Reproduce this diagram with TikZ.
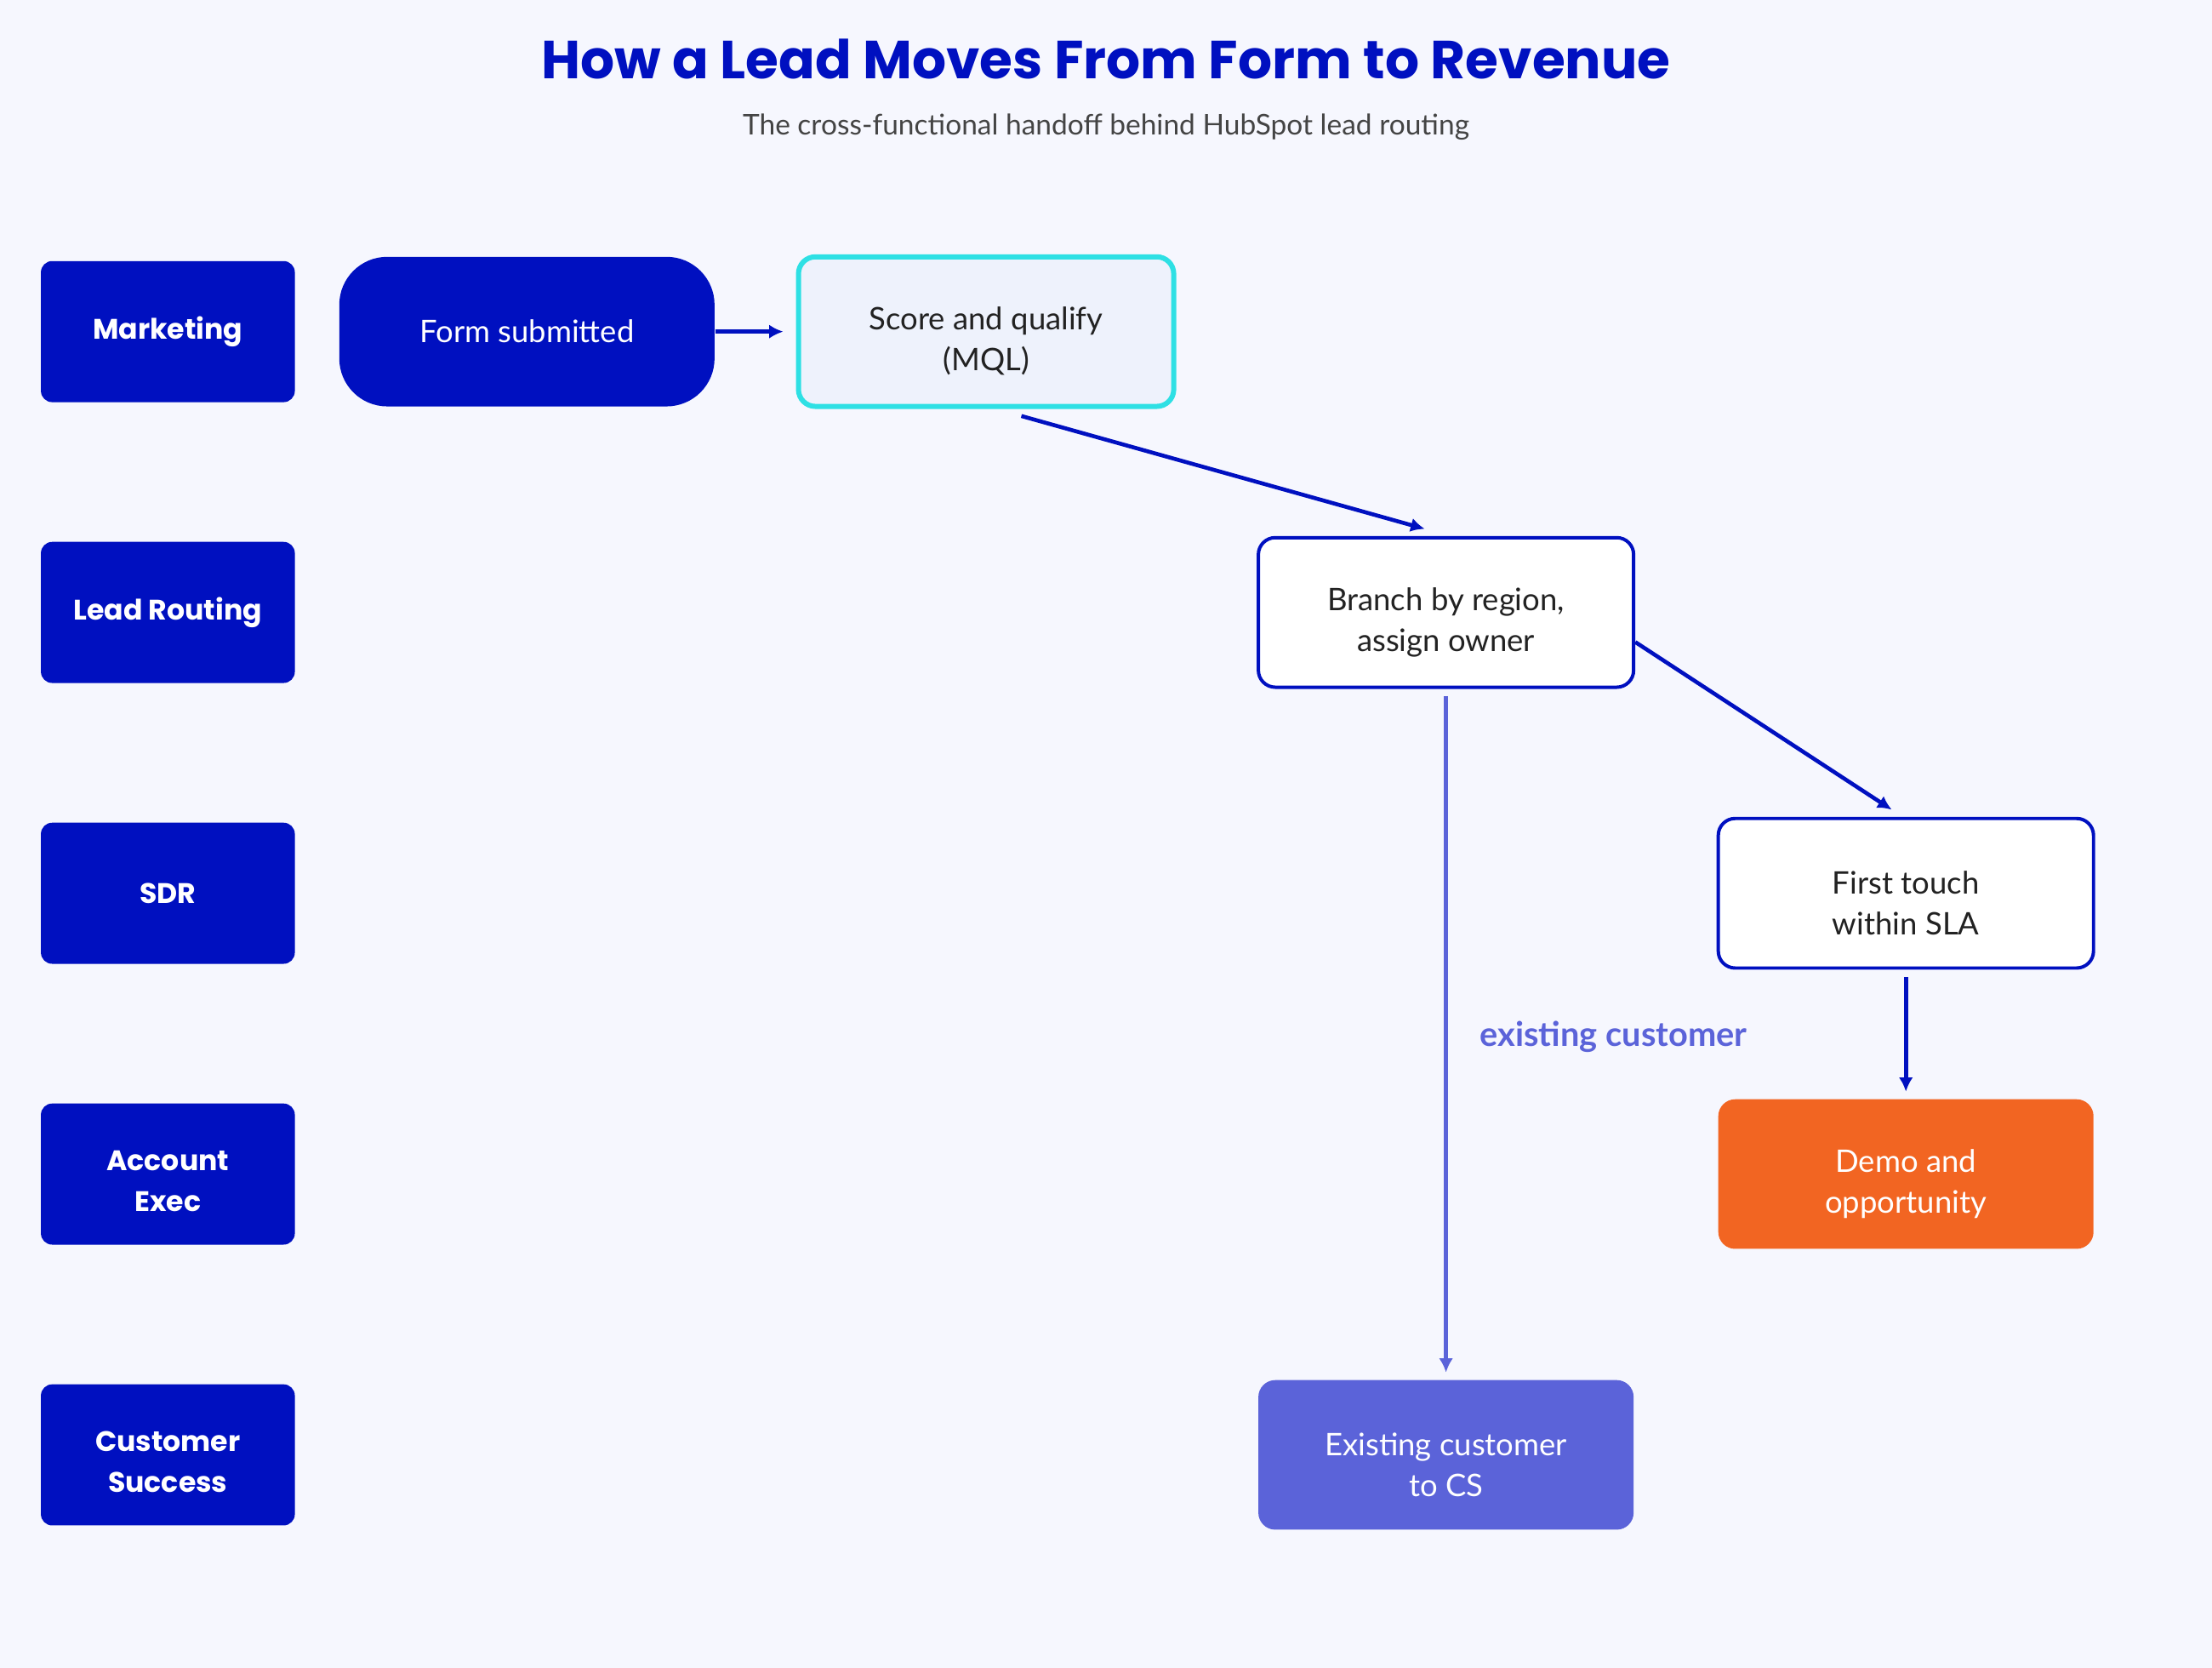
\documentclass[tikz,border=0pt]{standalone}
\usepackage{fontspec}
\setmainfont{Lato}
\newfontfamily\headfont{Poppins}
\usetikzlibrary{arrows.meta,positioning}
\definecolor{leadnavy}{HTML}{0010C0}
\definecolor{leadcyan}{HTML}{2EE0E4}
\definecolor{leadpale}{HTML}{EEF2FC}
\definecolor{leadpage}{HTML}{F6F7FE}
\definecolor{leadorange}{HTML}{F26522}
\definecolor{leadviolet}{HTML}{5B63D9}
\definecolor{leadgrey}{HTML}{444444}
\definecolor{leadink}{HTML}{222222}
\newcommand{\lanetop}{\rule{0pt}{12pt}}
\newcommand{\steptop}{\rule{0pt}{15pt}}

\begin{document}
\begin{tikzpicture}[x=0.5pt,y=-0.5pt,
  lane/.style={fill=leadnavy,rounded corners=4pt,minimum width=90pt,minimum height=50pt,
    align=center,text=white,font=\headfont\bfseries\fontsize{10}{14.5}\selectfont},
  stepbox/.style={rounded corners=6pt,minimum width=133pt,minimum height=53pt,
    align=center,font=\fontsize{11}{14.5}\selectfont},
  stepform/.style={stepbox,fill=leadnavy,text=white,rounded corners=17pt},
  stepmql/.style={stepbox,fill=leadpale,draw=leadcyan,line width=1.8pt,text=leadink},
  stepwhite/.style={stepbox,fill=white,draw=leadnavy,line width=1.2pt,text=leadink},
  stepdemo/.style={stepbox,fill=leadorange,text=white},
  stepcs/.style={stepbox,fill=leadviolet,text=white},
  flow/.style={-{Latex[length=5pt,width=5pt]},line width=1.4pt,leadnavy},
  flowcs/.style={-{Latex[length=5pt,width=5pt]},line width=1.3pt,leadviolet},
  cslabel/.style={font=\bfseries\fontsize{12}{14}\selectfont,text=leadviolet}]
  \fill[leadpage] (0,0) rectangle (1568,1182);
  \useasboundingbox (0,0) rectangle (1568,1182);
  % heading
  \node[font=\headfont\bfseries\fontsize{19}{23}\selectfont,text=leadnavy] (title) at (784,42)
       {How a Lead Moves From Form to Revenue};
  \node[font=\fontsize{10.1}{12}\selectfont,text=leadgrey] (subtitle) at (784,90)
       {The cross-functional handoff behind HubSpot lead routing};
  % swimlane labels
  \foreach \y/\name/\txt in {235/mkt/Marketing, 434/rout/{Lead Routing}, 633/sdr/SDR,
                             832/ae/{\lanetop Account\\Exec}, 1031/cs/{\lanetop Customer\\Success}}{
    \node[lane] (\name) at (119,\y) {\txt};}
  % steps
  \node[stepform]  (form)   at (373.5,235) {Form submitted};
  \node[stepmql]   (score)  at (699,235)   {\steptop Score and qualify\\(MQL)};
  \node[stepwhite] (branch) at (1025,434)  {\steptop Branch by region,\\assign owner};
  \node[stepwhite] (touch)  at (1351,633)  {\steptop First touch\\within SLA};
  \node[stepdemo]  (demo)   at (1351,832)  {\steptop Demo and\\opportunity};
  \node[stepcs]    (csstep) at (1025,1031) {\steptop Existing customer\\to CS};
  % handoffs
  \draw[flow] (form.east) -- ([xshift=-4.5pt]score.west);
  \draw[flow] ([xshift=12.5pt,yshift=-2.5pt]score.south) -- ([xshift=-7.5pt,yshift=2.5pt]branch.north);
  \draw[flow] ([yshift=-10.5pt]branch.east) -- ([xshift=-5pt,yshift=2.5pt]touch.north);
  \draw[flow] ([yshift=-2.5pt]touch.south) -- ([yshift=2.5pt]demo.north);
  \draw[flowcs] ([yshift=-2.5pt]branch.south) --
       node[cslabel,right=8pt,yshift=-1pt] (cstext) {existing customer} ([yshift=2.5pt]csstep.north);
\end{tikzpicture}
\end{document}
